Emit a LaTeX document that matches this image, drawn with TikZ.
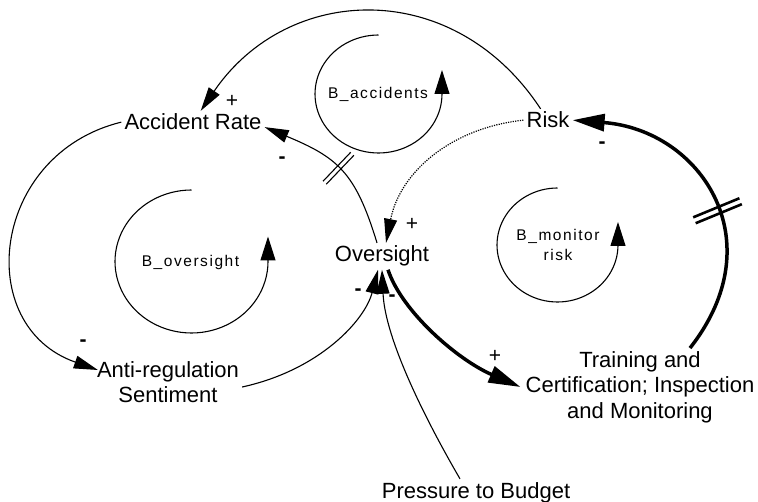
\documentclass[tikz,border=0pt]{standalone}
\usepackage{fontspec}
\setmainfont{Liberation Sans}
\newfontfamily\loopfont[LetterSpace=10]{Liberation Sans}
\usetikzlibrary{arrows.meta,decorations.markings}
\begin{document}
\begin{tikzpicture}[x=1pt,y=-1pt,
  lbl/.style={font=\fontsize{22}{25.5}\selectfont, inner sep=3pt, anchor=base},
  mlbl/.style={font=\fontsize{22}{25.5}\selectfont, inner sep=3pt, align=center},
  looplbl/.style={font=\loopfont\fontsize{15.5}{20}\selectfont, inner sep=0pt, align=center},
  sgn/.style={font=\fontsize{21}{25}\selectfont, inner sep=0pt, anchor=base},
  thin/.style={line width=1.1pt, -{Triangle[length=24pt,width=13pt]}},
  thickc/.style={line width=3.5pt, -{Triangle[length=32pt,width=17pt]}},
  loopline/.style={line width=1.1pt, -{Triangle[length=24pt,width=15pt]}},
  delaymk/.style={postaction={decorate, decoration={markings, mark=at position #1 with {\draw[-, line width=1.1pt, solid] (-2.2pt,-20pt) -- (-2.2pt,20pt) (2.2pt,-20pt) -- (2.2pt,20pt);}}}},
  delaythick/.style={postaction={decorate, decoration={markings, mark=at position #1 with {\draw[-, line width=2.6pt, solid] (-3.2pt,-25pt) -- (-3.2pt,25pt) (3.2pt,-25pt) -- (3.2pt,25pt);}}}}
]
\useasboundingbox (0,0) rectangle (758,502);
\fill[white] (0,0) rectangle (758,502);

% variables
\node[lbl] (acc) at (193,130) {Accident Rate};
\node[lbl] (risk) at (548,128) {Risk};
\node[lbl] (ovs) at (382,262) {Oversight};
\node[mlbl] (anti) at (168,382) {Anti-regulation\\Sentiment};
\node[mlbl] (train) at (640,387) {Training and\\Certification; Inspection\\and Monitoring};
\node[lbl] (press) at (476,498) {Pressure to Budget};

% loop labels
\node[looplbl] (bacc) at (378,94) {B\_accidents};
\node[looplbl] (bovs) at (190.5,262) {B\_oversight};
\node[looplbl] (bmon) at (558,244.5) {B\_monitor\\risk};

% loop arcs
\draw[loopline] plot[domain=0:270, samples=70, variable=\t] ({378.5+63.5*cos(270-\t)}, {94+59*sin(270-\t)}) -- ++(0,-24);
\draw[loopline] plot[domain=0:270, samples=70, variable=\t] ({191.5+76.5*cos(270-\t)}, {261.5+71.5*sin(270-\t)}) -- ++(0,-25);
\draw[loopline] plot[domain=0:270, samples=70, variable=\t] ({557.5+60.5*cos(270-\t)}, {245+57*sin(270-\t)}) -- ++(0,-23);

% connectors
\draw[thin] (risk) .. controls (454,-23) and (288,-17) .. (acc);
\draw[thin, delaymk=0.5] ([xshift=-5pt]ovs.north) .. controls (355.4,172.1) and (337.8,157.6) .. ([yshift=-5pt]acc.east);
\draw[thin, line width=1.2pt, dash pattern=on 1.2pt off 1.2pt] (risk.west) .. controls (451,128) and (400,172) .. ([xshift=4pt]ovs.north);
\draw[thin] (acc.west) .. controls (-9,154) and (-28,326) .. ([xshift=4pt,yshift=12pt]anti.west);
\draw[thin] ([yshift=-5pt]anti.east) .. controls (320,370) and (365,320) .. ([xshift=-4pt]ovs.south);
\draw[thin] ([xshift=-16pt]press.north) .. controls (424,417) and (385,338) .. (ovs.south);
\draw[thickc] ([xshift=6pt]ovs.south) .. controls (402,312) and (458,360) .. ([xshift=-2pt]train.west);
\draw[thickc, delaythick=0.45] ([xshift=50pt]train.north) .. controls (775,240) and (700,130) .. (risk.east);

% polarity signs
\node[sgn] (s1) at (232,107.4) {+};
\node[sgn] (s2) at (282,163.7) {\textbf{-}};
\node[sgn] (s3) at (602,148.7) {\textbf{-}};
\node[sgn] (s4) at (412,230.4) {+};
\node[sgn] (s5) at (358,295.7) {\textbf{-}};
\node[sgn] (s6) at (392,301.7) {\textbf{-}};
\node[sgn] (s7) at (495,362.4) {+};
\node[sgn] (s8) at (83,346.7) {\textbf{-}};
\end{tikzpicture}
\end{document}
